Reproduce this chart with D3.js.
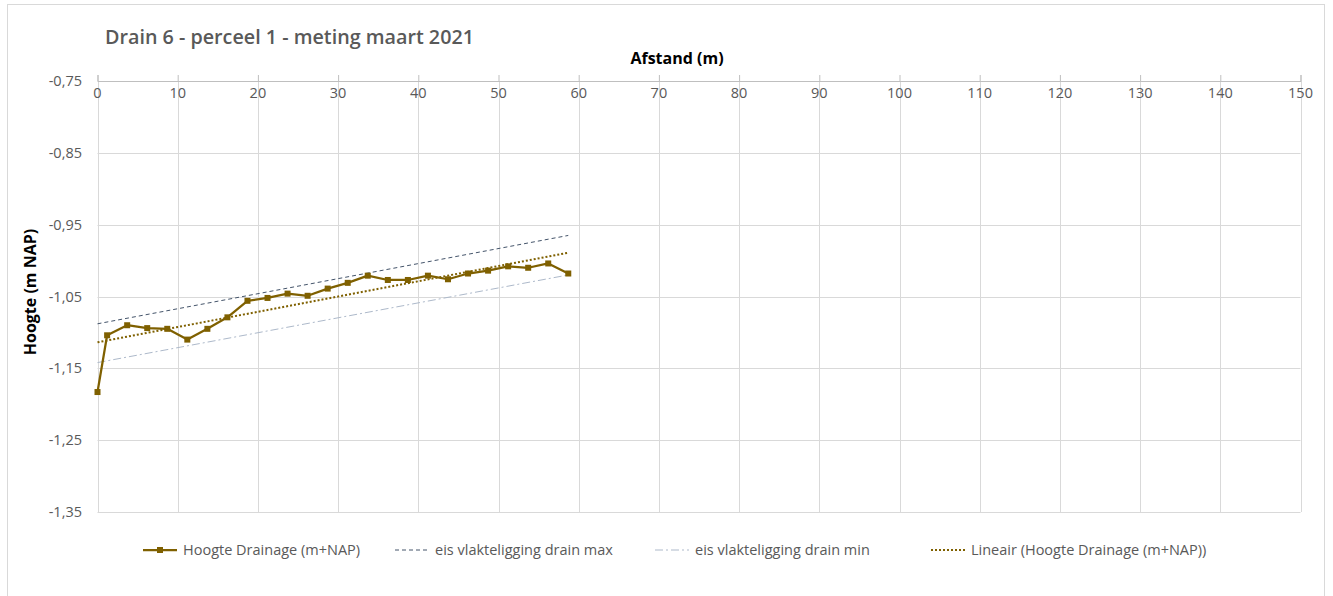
<!DOCTYPE html>
<html>
<head>
<meta charset="utf-8">
<script src="https://cdn.jsdelivr.net/npm/d3@7"></script>
<style>
  html, body { margin: 0; padding: 0; background: #ffffff; }
  svg { display: block; font-family: "Open Sans", "Noto Sans", sans-serif; }
</style>
</head>
<body>
<svg id="chart" width="1333" height="596"></svg>
<script>
// Afstand (m) along the drain and measured height (m NAP)
const afstand = [0, 1.2, 3.7, 6.2, 8.7, 11.2, 13.7, 16.2, 18.7, 21.2, 23.7, 26.2, 28.7,
                 31.2, 33.7, 36.2, 38.7, 41.2, 43.7, 46.2, 48.7, 51.2, 53.7, 56.2, 58.7];
const hoogte = [-1.183, -1.104, -1.090, -1.094, -1.095, -1.110, -1.095, -1.079, -1.056,
                -1.052, -1.046, -1.049, -1.039, -1.031, -1.021, -1.027, -1.027, -1.021,
                -1.026, -1.018, -1.014, -1.008, -1.010, -1.004, -1.018];
// Requirement lines (start and end of the drain)
const eisX = [0, 58.7];
const eisMax = [-1.088, -0.965];
const eisMin = [-1.142, -1.020];
// Axis ticks
const xTicks = [0, 10, 20, 30, 40, 50, 60, 70, 80, 90, 100, 110, 120, 130, 140, 150];
const yTicks = [-0.75, -0.85, -0.95, -1.05, -1.15, -1.25, -1.35];
const legendLabels = ["Hoogte Drainage (m+NAP)", "eis vlakteligging drain max",
                      "eis vlakteligging drain min", "Lineair (Hoogte Drainage (m+NAP))"];

const svg = d3.select("#chart");
const plot = { left: 97.5, right: 1300.5, top: 81, bottom: 512 };

const x = d3.scaleLinear().domain([0, 150]).range([plot.left, plot.right]);
const y = d3.scaleLinear().domain([-0.75, -1.35]).range([plot.top, plot.bottom]);

const olive = "#7f6000";

// Outer chart border
svg.append("rect").attr("x", 7.5).attr("y", 4.5).attr("width", 1317).attr("height", 600)
  .attr("fill", "none").attr("stroke", "#d9d9d9").attr("stroke-width", 1);

// Title
svg.append("text").attr("x", 105).attr("y", 44)
  .attr("font-size", 19.5).attr("font-weight", 600).attr("fill", "#595959")
  .attr("textLength", 369).attr("lengthAdjust", "spacingAndGlyphs")
  .text("Drain 6 - perceel 1 - meting maart 2021");

// Gridlines
svg.append("g").selectAll("line").data(yTicks).join("line")
  .attr("x1", plot.left).attr("x2", plot.right)
  .attr("y1", d => Math.round(y(d)) + 0.5).attr("y2", d => Math.round(y(d)) + 0.5)
  .attr("stroke", "#d9d9d9").attr("stroke-width", 1);
svg.append("g").selectAll("line").data(xTicks).join("line")
  .attr("x1", d => Math.round(x(d)) + 0.5).attr("x2", d => Math.round(x(d)) + 0.5)
  .attr("y1", plot.top).attr("y2", plot.bottom)
  .attr("stroke", "#d9d9d9").attr("stroke-width", 1);

// Top x axis with ticks pointing upward, labels below the line
const xAxis = d3.axisTop(x).tickValues(xTicks).tickSize(6).tickFormat("");
const gx = svg.append("g").attr("transform", `translate(0,${plot.top})`).call(xAxis);
gx.select(".domain").attr("stroke", "#bfbfbf");
gx.selectAll(".tick line").attr("stroke", "#bfbfbf");
svg.append("g").selectAll("text").data(xTicks).join("text")
  .attr("x", d => x(d)).attr("y", plot.top + 16.5)
  .attr("text-anchor", "middle").attr("font-size", 14.5).attr("fill", "#595959")
  .text(d => d);

// Left y labels
const fmt = d => d3.format(".2f")(d).replace("−", "-").replace(".", ",");
svg.append("g").selectAll("text").data(yTicks).join("text")
  .attr("x", 82).attr("y", d => y(d) + 5)
  .attr("text-anchor", "end").attr("font-size", 14.5).attr("fill", "#595959")
  .text(fmt);

// Axis titles
svg.append("text").attr("x", 677).attr("y", 64).attr("text-anchor", "middle")
  .attr("font-size", 16).attr("font-weight", 700).attr("fill", "#000")
  .text("Afstand (m)");
svg.append("text").attr("transform", "translate(36,292) rotate(-90)")
  .attr("text-anchor", "middle").attr("font-size", 16).attr("font-weight", 700)
  .attr("fill", "#000").text("Hoogte (m NAP)");

// Requirement lines
const eisLine = d3.line().x(d => x(d[0])).y(d => y(d[1]));
svg.append("path").datum(eisX.map((v, i) => [v, eisMin[i]]))
  .attr("d", eisLine).attr("fill", "none").attr("stroke", "#adb9ca")
  .attr("stroke-width", 1).attr("stroke-dasharray", "8,3,2,3");
svg.append("path").datum(eisX.map((v, i) => [v, eisMax[i]]))
  .attr("d", eisLine).attr("fill", "none").attr("stroke", "#44546a")
  .attr("stroke-width", 1).attr("stroke-dasharray", "4,3");

// Linear trend (least squares) of the measured heights
const mx = d3.mean(afstand), my = d3.mean(hoogte);
const slope = d3.sum(afstand, (v, i) => (v - mx) * (hoogte[i] - my)) /
              d3.sum(afstand, v => (v - mx) * (v - mx));
const icpt = my - slope * mx;
const trendX = d3.extent(afstand);
svg.append("path").datum(trendX.map(v => [v, icpt + slope * v]))
  .attr("d", eisLine).attr("fill", "none").attr("stroke", olive)
  .attr("stroke-width", 2).attr("stroke-dasharray", "2,2");

// Measured series
const pts = afstand.map((v, i) => [v, hoogte[i]]);
svg.append("path").datum(pts).attr("d", eisLine)
  .attr("fill", "none").attr("stroke", olive).attr("stroke-width", 2.25)
  .attr("stroke-linejoin", "round");
svg.append("g").selectAll("rect").data(pts).join("rect")
  .attr("x", d => x(d[0]) - 3).attr("y", d => y(d[1]) - 3)
  .attr("width", 6).attr("height", 6).attr("fill", olive);

// Legend
const ly = 550;
const legend = [
  { x: 143, label: legendLabels[0], kind: "series" },
  { x: 395, label: legendLabels[1], kind: "max" },
  { x: 655, label: legendLabels[2], kind: "min" },
  { x: 931, label: legendLabels[3], kind: "trend" }
];
const lg = svg.append("g");
legend.forEach(it => {
  const l = lg.append("line").attr("x1", it.x).attr("x2", it.x + 34)
    .attr("y1", ly).attr("y2", ly).attr("fill", "none");
  if (it.kind === "series") {
    l.attr("stroke", olive).attr("stroke-width", 2.25);
    lg.append("rect").attr("x", it.x + 14).attr("y", ly - 3).attr("width", 6).attr("height", 6).attr("fill", olive);
  } else if (it.kind === "max") {
    l.attr("stroke", "#44546a").attr("stroke-width", 1).attr("stroke-dasharray", "4,3");
  } else if (it.kind === "min") {
    l.attr("stroke", "#adb9ca").attr("stroke-width", 1).attr("stroke-dasharray", "8,3,2,3");
  } else {
    l.attr("stroke", olive).attr("stroke-width", 2).attr("stroke-dasharray", "2,2");
  }
  lg.append("text").attr("x", it.x + 40).attr("y", ly + 5)
    .attr("font-size", 14.5).attr("fill", "#595959").text(it.label);
});
</script>
</body>
</html>
